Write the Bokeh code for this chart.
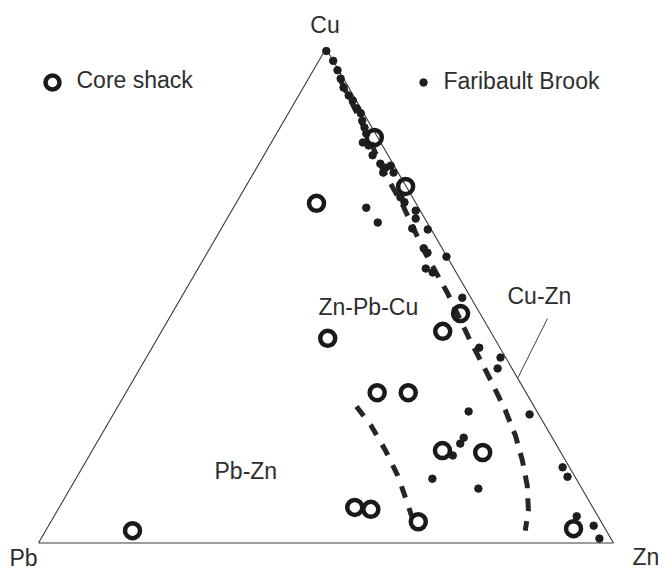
import math
from bokeh.plotting import figure
from bokeh.models import Range1d
from bokeh.core.properties import value
from bokeh.embed import file_html
from bokeh.resources import INLINE

# ---- data (percent) ----
core_cu = [82.0, 72.1, 68.7, 46.4, 42.8, 41.4, 30.4, 30.4, 18.7, 18.3, 7.2, 6.8, 4.3, 2.9, 2.5]
core_zn = [17.4, 27.8, 14.0, 50.2, 48.9, 29.6, 43.7, 49.1, 60.9, 68.1, 51.4, 54.4, 63.9, 91.6, 15.1]
core_pb = [0.6, 0.1, 17.3, 3.4, 8.3, 29.0, 25.9, 20.5, 20.4, 13.6, 41.4, 38.8, 31.8, 5.5, 82.4]

fb_cu = [99.5, 97.5, 95.6, 93.9, 92.1, 90.5, 89.5, 87.9, 86.9, 85.4, 84.0, 82.8, 81.0, 80.4,
         78.4, 76.7, 75.9, 76.3, 74.9, 74.9, 69.9, 68.9, 67.8, 64.8, 67.2, 65.6, 63.6, 63.4,
         59.6, 58.7, 57.9, 55.5, 54.7, 49.6, 39.5, 37.5, 35.3, 26.0, 26.6, 21.3, 20.1, 17.7,
         13.0, 11.0, 15.3, 13.4, 5.4, 3.5, 0.9]
fb_zn = [0.3, 2.5, 4.2, 5.6, 7.0, 8.7, 9.9, 11.4, 12.6, 13.6, 14.7, 15.6, 15.9, 17.2,
         18.9, 21.1, 22.4, 23.1, 22.5, 24.3, 28.0, 29.2, 23.1, 26.6, 32.0, 32.8, 33.2, 36.0,
         37.2, 38.3, 42.0, 39.6, 41.2, 48.9, 56.9, 61.6, 62.2, 72.4, 61.5, 63.3, 63.3, 63.2,
         62.0, 71.0, 83.5, 85.3, 90.9, 94.8, 97.1]
fb_pb = [0.2, 0.0, 0.2, 0.5, 0.9, 0.8, 0.6, 0.7, 0.5, 1.0, 1.3, 1.6, 3.1, 2.4,
         2.7, 2.2, 1.7, 0.6, 2.6, 0.8, 2.1, 1.9, 9.1, 8.6, 0.8, 1.6, 3.2, 0.6,
         3.2, 3.0, 0.1, 4.9, 4.1, 1.5, 3.6, 0.9, 2.5, 1.6, 11.9, 15.4, 16.6, 19.1,
         25.0, 18.0, 1.2, 1.3, 3.7, 1.7, 2.0]

# boundary between Zn-Pb-Cu and Cu-Zn fields
bndA_cu = [93.5, 83.4, 75.3, 68.3, 59.2, 50.5, 41.6, 32.9, 26.8, 21.7, 16.7, 11.6, 6.6, 2.5]
bndA_zn = [5.8, 15.2, 22.3, 29.2, 37.4, 45.9, 54.0, 62.2, 67.8, 72.1, 75.8, 79.2, 81.9, 83.4]
bndA_pb = [0.7, 1.4, 2.4, 2.5, 3.4, 3.6, 4.4, 4.9, 5.4, 6.2, 7.5, 9.2, 11.5, 14.1]
# boundary between Pb-Zn and Zn-Pb-Cu fields
bndB_cu = [27.6, 23.8, 18.7, 13.7, 8.6, 5.4]
bndB_zn = [41.5, 45.9, 51.0, 55.6, 59.7, 62.2]
bndB_pb = [30.9, 30.3, 30.3, 30.7, 31.7, 32.4]

vertex_labels = ["Cu", "Pb", "Zn"]
field_labels = ["Zn-Pb-Cu", "Cu-Zn", "Pb-Zn"]
legend_labels = ["Core shack", "Faribault Brook"]

H = math.sqrt(3) / 2


def tern(cu, zn, pb):
    xs, ys = [], []
    for c, z, b in zip(cu, zn, pb):
        t = c + z + b
        xs.append((z + c / 2) / t)
        ys.append(c / t * H)
    return xs, ys


# pixel layout helpers (annotation placement only)
X0, XS = 38.0, 575.0
Y0, YS = 542.5, 494.5


def px(xp, yp):
    return (xp - X0) / XS, (Y0 - yp) / YS * H


W, HT = 659, 569
p = figure(width=W, height=HT, output_backend="svg", toolbar_location=None,
           x_range=Range1d((0 - X0) / XS, (W - X0) / XS),
           y_range=Range1d((Y0 - HT) / YS * H, Y0 / YS * H),
           min_border=0, min_border_left=0, min_border_right=0,
           min_border_top=0, min_border_bottom=0)
p.xaxis.visible = False
p.yaxis.visible = False
p.xgrid.visible = False
p.ygrid.visible = False
p.outline_line_color = None
p.background_fill_color = "white"
p.border_fill_color = "white"

# triangle
tx, ty = tern([0, 0, 100, 0], [0, 100, 0, 0], [100, 0, 0, 100])
p.line(tx, ty, line_color="#3a3a3a", line_width=1.1)

# boundaries
ax, ay = tern(bndA_cu, bndA_zn, bndA_pb)
p.line(ax, ay, line_color="#262626", line_width=5, line_dash="13 10")
bx, by = tern(bndB_cu, bndB_zn, bndB_pb)
p.line(bx, by, line_color="#262626", line_width=5, line_dash="12 11")

# leader line for Cu-Zn
l1 = px(547, 318)
l2 = px(517, 378)
p.line([l1[0], l2[0]], [l1[1], l2[1]], line_color="#444444", line_width=1)

# points
fx, fy = tern(fb_cu, fb_zn, fb_pb)
p.scatter(fx, fy, marker="circle", size=7.5, fill_color="#1e1e1e", line_color="#1e1e1e", line_width=1)
cx, cy = tern(core_cu, core_zn, core_pb)
p.scatter(cx, cy, marker="circle", size=15, fill_color=None, line_color="#1a1a1a", line_width=4.5)

# legend markers
m1 = px(52, 82)
p.scatter([m1[0]], [m1[1]], marker="circle", size=14, fill_color=None, line_color="#1a1a1a", line_width=4.5)
m2 = px(423, 82)
p.scatter([m2[0]], [m2[1]], marker="circle", size=7.5, fill_color="#1e1e1e", line_color="#1e1e1e")

font = value("Liberation Sans")
tc = "#2e2e2e"
fs = "23px"
DY = 8  # baseline correction


def label(txt, xp, yp, align="left"):
    x, y = px(xp, yp - DY)
    p.text([x], [y], text=[txt], text_font=font, text_font_size=fs, text_color=tc,
           text_align=align, text_baseline="alphabetic")


label(vertex_labels[0], 324.5, 32, "center")
label(vertex_labels[1], 9, 565)
label(vertex_labels[2], 632, 564)
label(field_labels[0], 318, 314)
label(field_labels[1], 507, 303)
label(field_labels[2], 214, 478)
label(legend_labels[0], 76, 87)
label(legend_labels[1], 443, 88)

open("out.html", "w").write(file_html(p, INLINE))
